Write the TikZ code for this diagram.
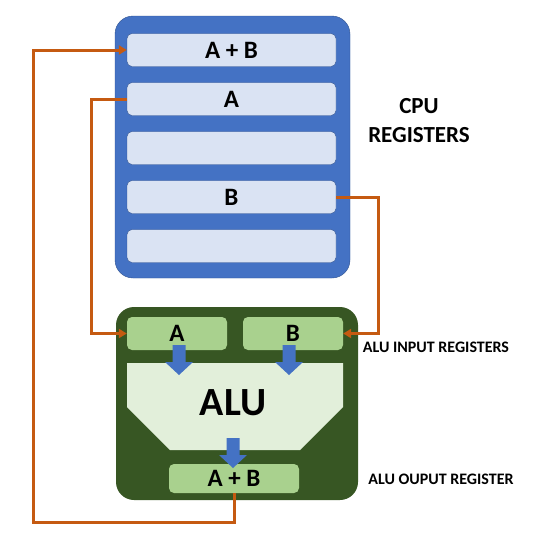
\documentclass[tikz,border=0pt]{standalone}
\usepackage{fontspec}
\setmainfont{Carlito}
\usetikzlibrary{arrows.meta}

\definecolor{cpublue}{HTML}{4472C4}
\definecolor{cpuedge}{HTML}{2F528F}
\definecolor{regfill}{HTML}{DAE3F3}
\definecolor{aludark}{HTML}{375623}
\definecolor{alulight}{HTML}{E2EFDA}
\definecolor{alureg}{HTML}{A9D18E}
\definecolor{wirecol}{HTML}{C55A11}

\newcommand{\blkarrow}[3]{%
  \fill[cpublue] ({#1-6.5},#2) -- ({#1+6.5},#2) -- ({#1+6.5},{#3-13}) -- ({#1+14},{#3-13})
    -- (#1,#3) -- ({#1-14},{#3-13}) -- ({#1-6.5},{#3-13}) -- cycle;}

\begin{document}
\begin{tikzpicture}[x=1pt, y=-1pt,
  every node/.style={font=\bfseries\fontsize{25}{28}\selectfont, inner sep=0pt},
  reg/.style={draw=cpuedge, fill=regfill, rounded corners=5pt, minimum width=209pt, minimum height=33pt},
  inreg/.style={fill=alureg, rounded corners=5pt, minimum height=33pt, minimum width=100pt},
  wire/.style={wirecol, line width=3pt},
  >={Triangle[length=8pt,width=9pt]}]
	\useasboundingbox (0,0) rectangle (536,547);
	% CPU registers
	\draw[cpuedge, fill=cpublue, rounded corners=18pt] (115,16) rectangle (350,278);
	\foreach \i/\t in {1/A + B, 2/A, 3/, 4/B, 5/} {\node[reg] (r\i) at (231.5,{50+49*(\i-1)}) {\t};}
	\node[align=center, font=\bfseries\fontsize{23}{29}\selectfont] (cpulbl) at (419,121) {CPU\\REGISTERS};
	% ALU
	\fill[aludark, rounded corners=18pt] (116,307) rectangle (358,500);
	\fill[alulight] (127,363) -- (343,363) -- (343,407) -- (300,450) -- (170,450) -- (127,407) -- cycle;
	\node[font=\bfseries\fontsize{40}{44}\selectfont] (alu) at (233,403) {ALU};
	\node[inreg] (ina) at (177,333.5) {A};
	\node[inreg] (inb) at (293,333.5) {B};
	\node[inreg, minimum width=130pt, minimum height=29pt] (out) at (234,478.5) {A + B};
	\blkarrow{179}{345}{375}
	\blkarrow{289}{345}{375}
	\blkarrow{233}{438}{468}
	\node[font=\bfseries\fontsize{16}{18}\selectfont] (inlbl) at (436,347) {ALU INPUT REGISTERS};
	\node[font=\bfseries\fontsize{16}{18}\selectfont] (outlbl) at (441,479) {ALU OUPUT REGISTER};
	% wires
	\coordinate (low) at (33,522);
	\draw[wire, ->] (out.south) |- (low) |- (r1.west);
	\draw[wire, ->] (r2.west) -- ++(-35,0) |- (ina.west);
	\draw[wire, ->] (r4.east) -- ++(42,0) |- (inb.east);
\end{tikzpicture}
\end{document}
